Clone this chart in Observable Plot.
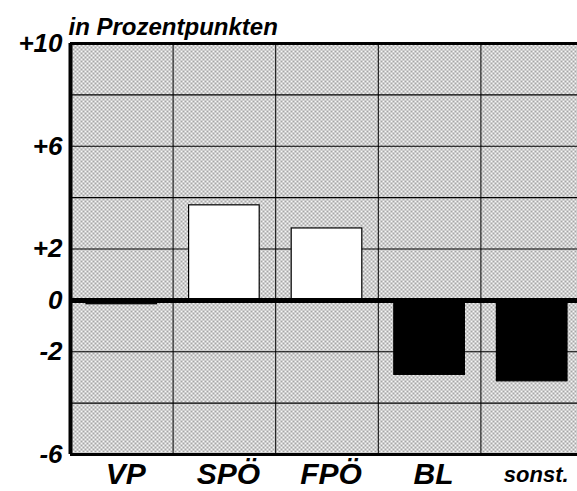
<!DOCTYPE html>
<html>
<head>
<meta charset="utf-8">
<script src="https://cdn.jsdelivr.net/npm/d3@7"></script>
<script src="https://cdn.jsdelivr.net/npm/@observablehq/plot@0.6"></script>
<style>
  html, body { margin: 0; padding: 0; background: #fff; overflow: hidden; }
  #chart svg { display: block; }
</style>
</head>
<body>
<div id="chart"></div>
<script>
const title = "in Prozentpunkten";
const categories = ["VP", "SPÖ", "FPÖ", "BL", "sonst."];
const values = [-0.15, 3.7, 2.8, -2.9, -3.15];
const yTicks = [10, 6, 2, 0, -2, -6];
const yTickLabels = ["+10", "+6", "+2", "0", "-2", "-6"];
const yGrid = [8, 6, 4, 2, -2, -4];
const xGrid = [1, 2, 3, 4];

const data = categories.map((c, i) => ({cat: c, i, value: values[i]}));
const font = "'Liberation Sans', Arial, sans-serif";

const chart = Plot.plot({
  width: 577,
  height: 491,
  marginTop: 43,
  marginBottom: 37,
  marginLeft: 70,
  marginRight: 0,
  style: {fontFamily: font, background: "white", overflow: "visible"},
  x: {domain: [0, 5], range: [70, 583], axis: null},
  y: {domain: [-6, 10], axis: null},
  marks: [
    Plot.frame({fill: "url(#dots)", stroke: "none"}),
    Plot.ruleY(yGrid, {stroke: "black", strokeWidth: 1.2}),
    Plot.ruleX(xGrid, {stroke: "black", strokeWidth: 1}),
    Plot.rectY(data, {
      x1: "i", x2: d => d.i + 1, y: "value",
      insetLeft: 16, insetRight: 16,
      fill: d => d.value > 0 ? "white" : "black",
      stroke: "black", strokeWidth: 1.2
    }),
    Plot.ruleY([0], {stroke: "black", strokeWidth: 5}),
    Plot.ruleY([10], {stroke: "black", strokeWidth: 3}),
    Plot.ruleY([-6], {stroke: "black", strokeWidth: 3}),
    Plot.ruleX([0], {stroke: "black", strokeWidth: 4}),
    Plot.axisY(yTicks, {
      label: null,
      tickSize: 0, tickPadding: 8,
      tickFormat: d => yTickLabels[yTicks.indexOf(d)],
      fontSize: 26, fontWeight: "bold", fontStyle: "italic", fill: "black"
    }),
    Plot.text(data, {
      x: d => d.i + 0.5, frameAnchor: "bottom", lineAnchor: "middle", dy: 20, dx: 4,
      text: "cat",
      fontSize: d => d.cat === "sonst." ? 22 : 30,
      fontWeight: "bold", fontStyle: "italic", fill: "black"
    }),
    Plot.text([title], {
      frameAnchor: "top-left", textAnchor: "start", lineAnchor: "bottom",
      dx: -2, dy: -9, fontSize: 24, fontWeight: "bold", fontStyle: "italic", fill: "black"
    })
  ]
});

const svg = d3.select(chart);
const defs = svg.insert("defs", ":first-child");
const pat = defs.append("pattern").attr("id", "dots").attr("patternUnits", "userSpaceOnUse")
  .attr("width", 4).attr("height", 4);
pat.append("rect").attr("width", 4).attr("height", 4).attr("fill", "#f6f6f6");
pat.append("rect").attr("x", 0).attr("y", 0).attr("width", 2).attr("height", 2).attr("fill", "#a6a6a6");
pat.append("rect").attr("x", 2).attr("y", 2).attr("width", 2).attr("height", 2).attr("fill", "#a6a6a6");

document.getElementById("chart").appendChild(chart);
</script>
</body>
</html>
